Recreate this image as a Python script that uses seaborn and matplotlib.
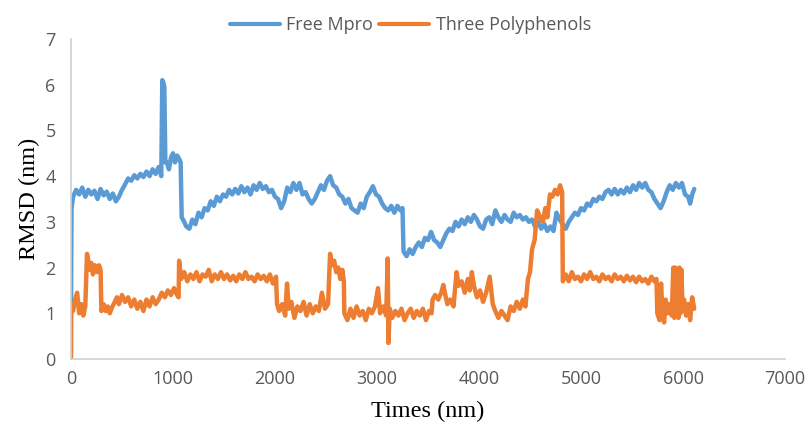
import numpy as np
import pandas as pd
import matplotlib
matplotlib.use("Agg")
import matplotlib.pyplot as plt
import seaborn as sns

# ---- data ----
time_mpro = [0, 5, 20, 50, 80, 110, 140, 170, 200, 230, 260, 290, 320, 350, 380, 410, 440, 470,
             500, 530, 560, 590, 620, 650, 680, 710, 740, 770, 800, 830, 860, 885, 895, 905, 915,
             925, 940, 960, 980, 1000, 1020, 1040, 1060, 1075, 1085, 1110, 1130, 1160, 1190, 1220,
             1250, 1280, 1310, 1340, 1370, 1400, 1430, 1460, 1490, 1520, 1550, 1580, 1610, 1640,
             1670, 1700, 1730, 1760, 1790, 1820, 1850, 1880, 1910, 1940, 1970, 2000, 2030, 2060,
             2090, 2120, 2150, 2180, 2210, 2240, 2270, 2300, 2330, 2360, 2390, 2420, 2450, 2480,
             2510, 2540, 2570, 2600, 2630, 2660, 2690, 2720, 2750, 2780, 2810, 2840, 2870, 2900,
             2930, 2960, 2990, 3020, 3050, 3080, 3110, 3140, 3170, 3200, 3230, 3250, 3260, 3290,
             3320, 3350, 3380, 3410, 3440, 3470, 3500, 3530, 3560, 3590, 3620, 3650, 3680, 3710,
             3740, 3770, 3800, 3830, 3860, 3890, 3920, 3950, 3980, 4010, 4040, 4070, 4100, 4130,
             4160, 4190, 4220, 4250, 4280, 4310, 4340, 4370, 4400, 4430, 4460, 4490, 4520, 4550,
             4580, 4610, 4640, 4670, 4700, 4730, 4760, 4790, 4820, 4850, 4880, 4910, 4940, 4970,
             5000, 5030, 5060, 5090, 5120, 5150, 5180, 5210, 5240, 5270, 5300, 5330, 5360, 5390,
             5420, 5450, 5480, 5510, 5540, 5570, 5600, 5630, 5660, 5690, 5720, 5750, 5780, 5810,
             5840, 5870, 5900, 5930, 5960, 5990, 6020, 6050, 6070, 6090, 6110]
rmsd_mpro = [1.2, 3.3, 3.55, 3.7, 3.6, 3.75, 3.55, 3.7, 3.6, 3.68, 3.5, 3.72, 3.58, 3.66, 3.5, 3.62,
             3.45, 3.55, 3.7, 3.82, 3.95, 3.9, 4.02, 3.95, 4.05, 3.98, 4.1, 4.0, 4.15, 4.05, 4.2,
             4.0, 6.1, 6.05, 5.95, 4.3, 4.3, 4.15, 4.4, 4.5, 4.3, 4.45, 4.38, 4.3, 3.1, 3.0, 2.9,
             2.85, 3.05, 2.95, 3.2, 3.1, 3.3, 3.25, 3.45, 3.35, 3.55, 3.45, 3.6, 3.55, 3.7, 3.6,
             3.72, 3.62, 3.78, 3.65, 3.75, 3.6, 3.8, 3.7, 3.85, 3.72, 3.78, 3.65, 3.7, 3.55, 3.5,
             3.3, 3.45, 3.75, 3.65, 3.85, 3.7, 3.85, 3.6, 3.65, 3.5, 3.4, 3.5, 3.65, 3.8, 3.7, 3.9,
             4.0, 3.8, 3.75, 3.6, 3.55, 3.4, 3.5, 3.3, 3.25, 3.2, 3.4, 3.3, 3.55, 3.65, 3.78, 3.6,
             3.55, 3.4, 3.3, 3.25, 3.35, 3.2, 3.35, 3.25, 3.3, 2.35, 2.25, 2.4, 2.3, 2.45, 2.55,
             2.45, 2.65, 2.6, 2.78, 2.6, 2.55, 2.45, 2.6, 2.75, 2.85, 2.8, 3.0, 2.9, 3.05, 2.95,
             3.1, 3.0, 3.15, 3.05, 2.9, 2.85, 3.05, 3.1, 2.95, 3.25, 3.1, 3.0, 3.15, 3.05, 3.0,
             3.2, 3.1, 3.15, 3.05, 3.1, 3.0, 3.05, 2.9, 3.0, 2.85, 2.95, 2.8, 2.9, 2.8, 3.2, 3.05,
             2.95, 2.85, 3.0, 3.1, 3.2, 3.15, 3.3, 3.25, 3.4, 3.35, 3.5, 3.45, 3.55, 3.5, 3.65,
             3.7, 3.6, 3.72, 3.6, 3.7, 3.62, 3.75, 3.65, 3.8, 3.7, 3.85, 3.75, 3.85, 3.7, 3.65,
             3.5, 3.4, 3.3, 3.45, 3.65, 3.8, 3.7, 3.85, 3.75, 3.85, 3.6, 3.55, 3.4, 3.6, 3.72]

time_poly = [0, 3, 20, 40, 60, 80, 100, 120, 140, 157, 170, 185, 200, 215, 235, 255, 275, 290, 298,
             320, 340, 360, 380, 400, 430, 450, 470, 500, 530, 560, 590, 620, 650, 680, 710, 740,
             770, 800, 830, 860, 890, 920, 950, 980, 1010, 1040, 1055, 1060, 1080, 1110, 1140,
             1170, 1200, 1230, 1260, 1290, 1320, 1350, 1380, 1410, 1440, 1470, 1500, 1530, 1560,
             1590, 1620, 1650, 1680, 1710, 1740, 1770, 1800, 1830, 1860, 1890, 1920, 1950, 1980,
             2010, 2020, 2040, 2070, 2100, 2118, 2135, 2160, 2190, 2220, 2250, 2280, 2310, 2340,
             2370, 2400, 2430, 2460, 2490, 2520, 2540, 2560, 2580, 2600, 2620, 2640, 2660, 2675,
             2680, 2710, 2740, 2770, 2800, 2830, 2860, 2890, 2920, 2950, 2980, 3010, 3030, 3060,
             3090, 3105, 3112, 3125, 3150, 3180, 3210, 3240, 3270, 3300, 3330, 3360, 3390, 3420,
             3450, 3480, 3510, 3535, 3545, 3570, 3600, 3630, 3650, 3670, 3690, 3720, 3750, 3780,
             3800, 3830, 3860, 3890, 3910, 3930, 3950, 3980, 4010, 4040, 4070, 4105, 4135, 4160,
             4190, 4220, 4250, 4280, 4310, 4340, 4370, 4400, 4430, 4455, 4480, 4500, 4520, 4545,
             4570, 4600, 4627, 4650, 4670, 4696, 4720, 4745, 4770, 4795, 4815, 4822, 4850, 4880,
             4910, 4940, 4970, 5000, 5030, 5060, 5090, 5120, 5150, 5180, 5210, 5240, 5270, 5300,
             5330, 5360, 5390, 5420, 5450, 5480, 5510, 5540, 5570, 5600, 5630, 5660, 5690, 5720,
             5740, 5748, 5770, 5785, 5800, 5815, 5830, 5850, 5870, 5890, 5905, 5915, 5925, 5935,
             5945, 5955, 5965, 5975, 5985, 5995, 6010, 6030, 6050, 6070, 6090, 6110]
rmsd_poly = [0.0, 1.2, 1.05, 1.3, 1.45, 1.0, 1.2, 0.95, 1.15, 2.3, 2.15, 1.95, 2.1, 1.85, 2.05, 1.9,
             2.05, 1.95, 1.05, 1.2, 1.05, 1.15, 1.0, 1.12, 1.25, 1.35, 1.2, 1.4, 1.25, 1.35, 1.15,
             1.3, 1.1, 1.25, 1.05, 1.3, 1.15, 1.35, 1.2, 1.3, 1.45, 1.35, 1.5, 1.4, 1.55, 1.4,
             1.35, 2.15, 1.75, 1.9, 1.7, 1.85, 1.75, 1.9, 1.7, 1.85, 1.8, 1.95, 1.7, 1.85, 1.75,
             1.9, 1.75, 1.85, 1.72, 1.82, 1.7, 1.85, 1.75, 1.9, 1.75, 1.8, 1.7, 1.85, 1.75, 1.82,
             1.7, 1.85, 1.65, 1.8, 1.2, 1.05, 1.2, 0.95, 1.65, 1.1, 1.25, 0.9, 1.15, 1.05, 1.25,
             0.95, 1.2, 1.0, 1.15, 1.05, 1.45, 1.1, 1.2, 2.3, 2.05, 2.15, 1.9, 2.0, 1.75, 1.95,
             1.7, 1.0, 0.85, 1.1, 0.9, 1.15, 0.95, 1.05, 0.85, 1.1, 1.0, 1.15, 1.55, 1.0, 1.15,
             0.95, 2.2, 0.35, 1.1, 0.9, 1.05, 0.95, 1.1, 0.85, 1.0, 1.1, 0.9, 1.05, 0.95, 1.1,
             0.85, 1.05, 1.0, 1.3, 1.4, 1.3, 1.45, 1.62, 1.4, 1.2, 1.3, 1.15, 1.9, 1.6, 1.7, 1.45,
             1.75, 1.5, 1.9, 1.6, 1.35, 1.5, 1.25, 1.45, 1.8, 1.2, 1.05, 0.9, 1.05, 0.95, 0.85,
             1.15, 1.05, 1.25, 1.1, 1.3, 1.15, 1.75, 1.9, 2.4, 2.6, 3.25, 3.1, 3.0, 3.3, 3.1, 3.6,
             3.55, 3.7, 3.6, 3.8, 3.65, 1.7, 1.85, 1.7, 1.9, 1.75, 1.8, 1.7, 1.85, 1.75, 1.9, 1.75,
             1.8, 1.7, 1.85, 1.75, 1.8, 1.7, 1.85, 1.75, 1.8, 1.7, 1.82, 1.72, 1.8, 1.68, 1.8, 1.7,
             1.75, 1.65, 1.8, 1.7, 1.75, 1.0, 0.85, 1.65, 0.95, 0.8, 1.3, 1.0, 1.2, 0.95, 2.0, 0.9,
             2.0, 0.95, 1.95, 0.9, 2.0, 1.0, 1.95, 1.05, 1.3, 0.95, 1.2, 0.85, 1.35, 1.1]

series_names = ["Free Mpro", "Three Polyphenols"]
series_colors = ["#5B9BD5", "#ED7D31"]
x_ticks = [0, 1000, 2000, 3000, 4000, 5000, 6000, 7000]
y_ticks = [0, 1, 2, 3, 4, 5, 6, 7]

df = pd.concat([
    pd.DataFrame({"time": time_mpro, "rmsd": rmsd_mpro, "series": series_names[0]}),
    pd.DataFrame({"time": time_poly, "rmsd": rmsd_poly, "series": series_names[1]}),
], ignore_index=True)

# ---- style ----
sns.set_style("white")
plt.rcParams["font.family"] = ["Open Sans", "DejaVu Sans"]

fig = plt.figure(figsize=(8.09, 4.25), dpi=100)
ax = fig.add_axes([71 / 809, 66 / 425, 714 / 809, 320 / 425])

sns.lineplot(data=df, x="time", y="rmsd", hue="series", palette=series_colors,
             estimator=None, sort=False, linewidth=3.2, ax=ax, legend=False)

ax.set_xlim(0, 7000)
ax.set_ylim(0, 7)
ax.set_xticks(x_ticks)
ax.set_yticks(y_ticks)
ax.tick_params(axis="both", length=0, labelsize=13, colors="#595959")
ax.tick_params(axis="x", pad=8)
ax.tick_params(axis="y", pad=11)

for side in ["top", "right"]:
    ax.spines[side].set_visible(False)
for side in ["left", "bottom"]:
    ax.spines[side].set_color("#d0d0d0")
    ax.spines[side].set_linewidth(1.2)

ax.set_xlabel("Times (nm)", family="Liberation Serif", fontsize=17.5, color="black", labelpad=9)
ax.set_ylabel("RMSD (nm)", family="Liberation Serif", fontsize=17.5, color="black", labelpad=4)

handles = [plt.Line2D([], [], color=c, linewidth=3) for c in series_colors]
fig.legend(handles, series_names, loc="center", bbox_to_anchor=(0.507, 0.941), ncol=2,
           frameon=False, fontsize=13, handlelength=2.8, handletextpad=0.35,
           columnspacing=0.3, labelcolor="#595959")

fig.savefig("out.png", dpi=100)
